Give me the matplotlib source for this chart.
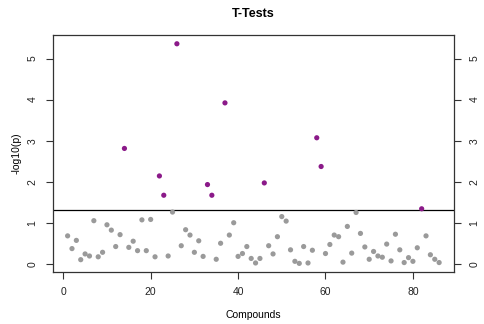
# T-Tests: -log10(p) per compound, significant ones highlighted
import numpy as np
import matplotlib
matplotlib.use('Agg')
import matplotlib.pyplot as plt

plt.rcParams['font.family'] = ['Liberation Sans', 'DejaVu Sans']

# -log10(p) for compounds 1..86
neg_log_p = [
    0.68, 0.37, 0.57, 0.10, 0.24, 0.19, 1.05, 0.17, 0.28, 0.95,
    0.82, 0.42, 0.71, 2.81, 0.40, 0.55, 0.32, 1.07, 0.32, 1.08,
    0.17, 2.14, 1.67, 0.19, 1.26, 5.36, 0.44, 0.83, 0.70, 0.28,
    0.56, 0.18, 1.93, 1.67, 0.11, 0.50, 3.92, 0.70, 1.00, 0.18,
    0.25, 0.42, 0.13, 0.02, 0.13, 1.97, 0.44, 0.24, 0.66, 1.15,
    1.04, 0.34, 0.06, 0.01, 0.42, 0.02, 0.33, 3.07, 2.37, 0.25,
    0.47, 0.70, 0.66, 0.04, 0.91, 0.26, 1.25, 0.74, 0.41, 0.11,
    0.30, 0.19, 0.16, 0.48, 0.07, 0.72, 0.34, 0.03, 0.15, 0.06,
    0.39, 1.34, 0.68, 0.22, 0.11, 0.03,
]
compounds = np.arange(1, len(neg_log_p) + 1)
threshold = -np.log10(0.05)

y = np.array(neg_log_p)
sig = y > threshold
colors = np.where(sig, '#8b1a89', '#9a9a9a')

fig = plt.figure(figsize=(4.84, 3.24), dpi=100)
ax = fig.add_axes([0.109, 0.160, 0.829, 0.732])

ax.scatter(compounds, y, s=14, c=colors, linewidths=0, zorder=3)
ax.axhline(threshold, color='black', lw=0.9, zorder=2)

# R-style 4% padding
span_x = compounds.max() - compounds.min()
ax.set_xlim(compounds.min() - 0.04 * span_x, compounds.max() + 0.04 * span_x)
span_y = y.max() - y.min()
ax.set_ylim(y.min() - 0.04 * span_y, y.max() + 0.04 * span_y)

ax.set_xticks([0, 20, 40, 60, 80])
ax.set_yticks([0, 1, 2, 3, 4, 5])
ax.tick_params(axis='both', direction='out', length=5, width=0.8,
               color='#333333', labelsize=7.5, labelcolor='#222222')
ax.tick_params(axis='x', pad=6)
ax.tick_params(axis='y', right=True, labelright=True, pad=6)
for t in ax.yaxis.get_major_ticks():
    t.label1.set_rotation(90)
    t.label1.set_va('center')
    t.label2.set_rotation(90)
    t.label2.set_va('center')

for sp in ax.spines.values():
    sp.set_color('#333333')
    sp.set_linewidth(0.9)

ax.set_title('T-Tests', fontsize=9, fontweight='bold', pad=13, y=1.0)
ax.title.set_position((0.5, 1.0))
ax.set_xlabel('Compounds', fontsize=7.5, labelpad=9)
ax.set_ylabel('-log10(p)', fontsize=7.5, labelpad=4)

fig.savefig('out.png', dpi=100)
